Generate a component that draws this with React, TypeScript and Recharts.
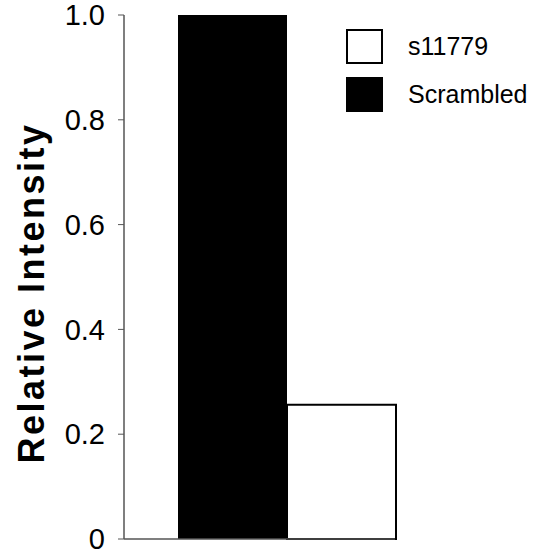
import React from "react";
import { BarChart, Bar, XAxis, YAxis } from "recharts";

const categories = ["Relative"];
const scrambledValues = [1.0];
const s11779Values = [0.256];
const yTicks = [0, 0.2, 0.4, 0.6, 0.8, 1.0];
const seriesNames = ["s11779", "Scrambled"];

const data = categories.map((c, i) => ({
  name: c,
  Scrambled: scrambledValues[i],
  s11779: s11779Values[i],
}));

const FONT = "'Liberation Sans', Arial, Helvetica, sans-serif";

const LegendBox = () => (
  <div
    style={{
      position: "absolute",
      left: 346,
      top: 22,
      fontFamily: FONT,
    }}
  >
    {seriesNames.map((n, i) => (
      <div
        key={n}
        style={{ display: "flex", alignItems: "center", height: 48 }}
      >
        <div
          style={{
            width: 37,
            height: 35,
            boxSizing: "border-box",
            background: i === 0 ? "#fff" : "#000",
            border: "2px solid #000",
          }}
        />
        <span style={{ marginLeft: 25, fontSize: 25, color: "#000" }}>{n}</span>
      </div>
    ))}
  </div>
);

const YLabel = (props: any) => {
  const vb = props.viewBox || { x: 0, y: 15, width: 124, height: 524 };
  const cx = vb.x + 31;
  const cy = vb.y + vb.height / 2 + 16;
  return (
    <text
      x={cx}
      y={cy}
      transform={`rotate(-90, ${cx}, ${cy})`}
      textAnchor="middle"
      dominantBaseline="central"
      fontFamily={FONT}
      fontWeight="bold"
      fontSize={36}
      letterSpacing={2.5}
      fill="#000"
    >
      Relative Intensity
    </text>
  );
};

export default function App() {
  return (
    <div style={{ position: "absolute", left: 0, top: 0, width: 547, height: 558, background: "#fff" }}>
      <BarChart
        width={547}
        height={558}
        data={data}
        margin={{ top: 15, right: 152, bottom: 18, left: 0 }}
        barGap={0}
        barCategoryGap={0}
      >
        <XAxis
          dataKey="name"
          tick={false}
          tickLine={false}
          height={1}
          padding={{ left: 54, right: 0 }}
          axisLine={{ stroke: "#555", strokeWidth: 1.5 }}
        />
        <YAxis
          width={124}
          domain={[0, 1]}
          ticks={yTicks}
          interval={0}
          tickFormatter={(v: number) => (v === 0 ? "0" : v.toFixed(1))}
          tick={{ fontSize: 29, fill: "#000", fontFamily: FONT }}
          tickSize={6}
          tickMargin={13}
          tickLine={{ stroke: "#555" }}
          axisLine={{ stroke: "#555", strokeWidth: 1.5 }}
          label={<YLabel />}
        />
        <Bar dataKey="Scrambled" fill="#000" isAnimationActive={false} />
        <Bar
          dataKey="s11779"
          fill="#fff"
          stroke="#000"
          strokeWidth={2}
          isAnimationActive={false}
        />
      </BarChart>
      <LegendBox />
    </div>
  );
}
